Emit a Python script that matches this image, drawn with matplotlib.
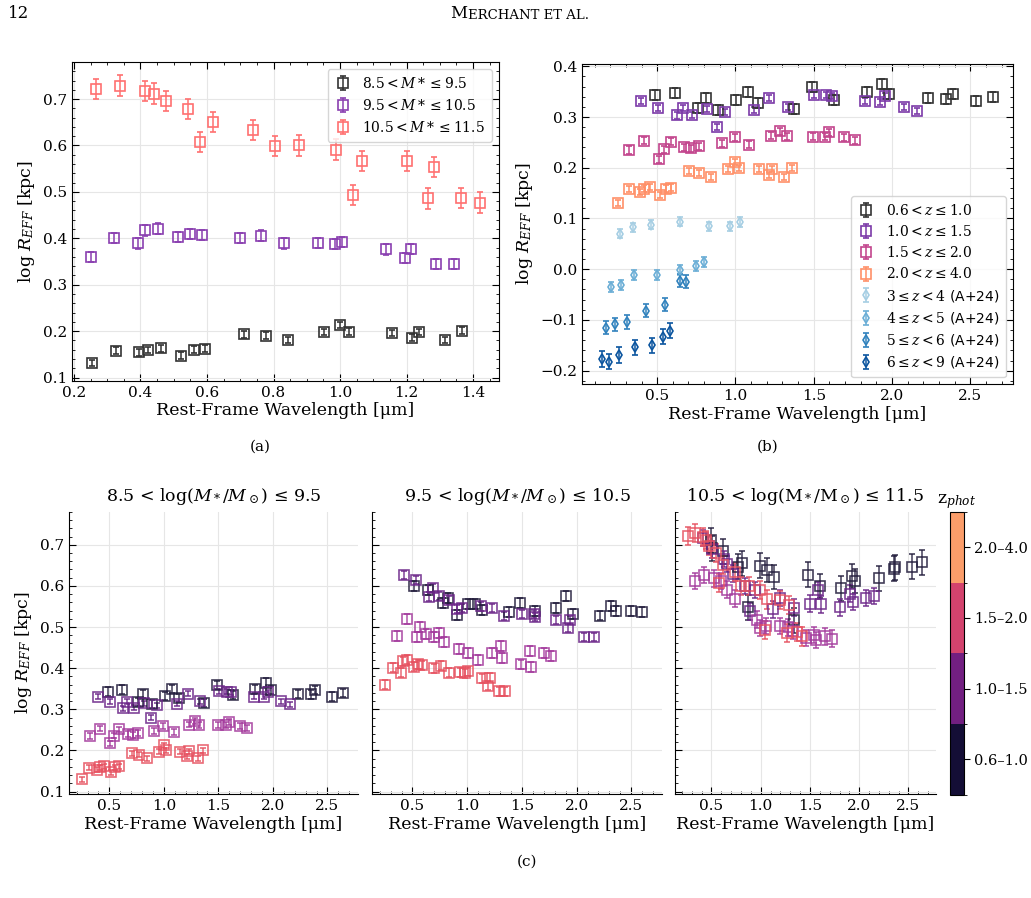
import numpy as np
import matplotlib
matplotlib.use("Agg")
import matplotlib.pyplot as plt
from matplotlib.colors import ListedColormap, BoundaryNorm
from matplotlib.cm import ScalarMappable

plt.rcParams['font.family'] = 'DejaVu Serif'
plt.rcParams['mathtext.fontset'] = 'dejavuserif'

# ---- panel (a): z = 2.0-4.0, split by stellar mass ----
a_lo_x = [0.254, 0.326, 0.397, 0.422, 0.462, 0.523, 0.560, 0.595, 0.711, 0.776,
          0.845, 0.951, 1.001, 1.026, 1.157, 1.215, 1.236, 1.315, 1.367]
a_lo_y = [0.131, 0.158, 0.154, 0.159, 0.163, 0.147, 0.160, 0.162, 0.193, 0.190,
          0.181, 0.198, 0.213, 0.199, 0.196, 0.186, 0.198, 0.181, 0.201]
a_mid_x = [0.250, 0.319, 0.391, 0.414, 0.453, 0.514, 0.549, 0.585, 0.699, 0.761,
           0.831, 0.935, 0.984, 1.007, 1.137, 1.195, 1.213, 1.290, 1.344]
a_mid_y = [0.360, 0.401, 0.389, 0.417, 0.421, 0.403, 0.410, 0.407, 0.400, 0.406,
           0.389, 0.390, 0.388, 0.392, 0.376, 0.357, 0.377, 0.344, 0.344]
a_hi_x = [0.265, 0.337, 0.414, 0.440, 0.478, 0.542, 0.580, 0.617, 0.737, 0.804,
          0.878, 0.988, 1.040, 1.065, 1.201, 1.263, 1.283, 1.364, 1.420]
a_hi_y = [0.722, 0.729, 0.718, 0.712, 0.696, 0.679, 0.607, 0.651, 0.634, 0.599,
          0.600, 0.591, 0.493, 0.567, 0.566, 0.486, 0.554, 0.487, 0.477]
a_err = [0.007, 0.011, 0.022]
a_labels = [r'$8.5 < M* \leq 9.5$', r'$9.5 < M* \leq 10.5$', r'$10.5 < M* \leq 11.5$']

# ---- panel (b): low-mass bin, split by redshift ----
b_z1_x = [0.487, 0.617, 0.762, 0.811, 0.889, 1.006, 1.079, 1.143, 1.372, 1.491,
          1.630, 1.838, 1.936, 1.983, 2.232, 2.347, 2.389, 2.538, 2.645]
b_z1_y = [0.343, 0.348, 0.317, 0.337, 0.313, 0.333, 0.349, 0.327, 0.316, 0.359,
          0.334, 0.350, 0.365, 0.346, 0.337, 0.336, 0.346, 0.331, 0.340]
b_z2_x = [0.396, 0.504, 0.626, 0.662, 0.723, 0.821, 0.879, 0.936, 1.117, 1.217,
          1.336, 1.502, 1.581, 1.619, 1.826, 1.921, 1.953, 2.074, 2.157]
b_z2_y = [0.331, 0.318, 0.303, 0.318, 0.304, 0.315, 0.280, 0.310, 0.314, 0.338,
          0.320, 0.344, 0.343, 0.341, 0.331, 0.330, 0.341, 0.320, 0.312]
b_z3_x = [0.323, 0.413, 0.509, 0.543, 0.591, 0.670, 0.719, 0.766, 0.913, 0.996,
          1.089, 1.228, 1.287, 1.326, 1.494, 1.571, 1.596, 1.696, 1.764]
b_z3_y = [0.235, 0.253, 0.217, 0.236, 0.251, 0.240, 0.238, 0.242, 0.248, 0.260,
          0.245, 0.263, 0.272, 0.262, 0.261, 0.261, 0.270, 0.260, 0.254]
b_z4_x = [0.249, 0.317, 0.389, 0.413, 0.453, 0.515, 0.555, 0.587, 0.706, 0.768,
          0.843, 0.951, 0.998, 1.021, 1.151, 1.211, 1.234, 1.309, 1.362]
b_z4_y = [0.130, 0.158, 0.153, 0.159, 0.162, 0.147, 0.159, 0.161, 0.193, 0.190,
          0.181, 0.197, 0.212, 0.200, 0.197, 0.186, 0.198, 0.181, 0.200]
b_err = [0.010, 0.006, 0.007, 0.006]
b_labels = [r'$0.6 < z \leq 1.0$', r'$1.0 < z \leq 1.5$', r'$1.5 < z \leq 2.0$', r'$2.0 < z \leq 4.0$']

# Allen+24 comparison
A24_34_x = [0.264, 0.347, 0.462, 0.643, 0.834, 0.962, 1.028]
A24_34_y = [0.070, 0.083, 0.088, 0.094, 0.085, 0.085, 0.093]
A24_45_x = [0.204, 0.266, 0.355, 0.496, 0.643, 0.745, 0.798]
A24_45_y = [-0.035, -0.031, -0.012, -0.011, -0.002, 0.007, 0.014]
A24_56_x = [0.174, 0.232, 0.306, 0.426, 0.553, 0.643, 0.687]
A24_56_y = [-0.115, -0.109, -0.104, -0.082, -0.070, -0.023, -0.025]
A24_69_x = [0.145, 0.191, 0.257, 0.360, 0.470, 0.540, 0.581]
A24_69_y = [-0.177, -0.182, -0.169, -0.154, -0.150, -0.133, -0.121]
A24_err = [0.009, 0.010, 0.013, 0.015]
A24_labels = [r'$3 \leq z < 4$ (A+24)', r'$4 \leq z < 5$ (A+24)',
              r'$5 \leq z < 6$ (A+24)', r'$6 \leq z < 9$ (A+24)']

# ---- panel (c) middle: 9.5 < logM <= 10.5 ----
c2_z1_x = [0.512, 0.638, 0.778, 0.823, 0.904, 1.009, 1.072, 1.138, 1.383, 1.479,
           1.623, 1.814, 1.907, 1.964, 2.210, 2.311, 2.356, 2.497, 2.599]
c2_z1_y = [0.600, 0.590, 0.559, 0.570, 0.529, 0.557, 0.557, 0.541, 0.537, 0.558,
           0.539, 0.546, 0.576, 0.532, 0.528, 0.551, 0.539, 0.539, 0.537]
c2_z2_x = [0.425, 0.536, 0.650, 0.689, 0.740, 0.835, 0.910, 0.955, 1.129, 1.231,
           1.341, 1.503, 1.608, 1.617, 1.808, 1.922, 1.943, 2.072, 2.156]
c2_z2_y = [0.627, 0.614, 0.574, 0.594, 0.576, 0.566, 0.543, 0.547, 0.550, 0.547,
           0.527, 0.532, 0.531, 0.524, 0.517, 0.498, 0.517, 0.475, 0.475]
c2_z3_x = [0.362, 0.446, 0.539, 0.566, 0.623, 0.695, 0.746, 0.787, 0.928, 1.012,
           1.099, 1.228, 1.305, 1.320, 1.488, 1.575, 1.587, 1.704, 1.769]
c2_z3_y = [0.479, 0.519, 0.476, 0.501, 0.482, 0.475, 0.485, 0.464, 0.446, 0.436,
           0.420, 0.436, 0.454, 0.424, 0.409, 0.442, 0.402, 0.436, 0.429]

# ---- panel (c) right: 10.5 < logM <= 11.5 ----
c3_z1_x = [0.493, 0.510, 0.617, 0.771, 0.811, 0.875, 0.992, 1.069, 1.135, 1.343,
           1.477, 1.607, 1.814, 1.931, 1.958, 2.199, 2.349, 2.360, 2.540, 2.637]
c3_z1_y = [0.711, 0.691, 0.684, 0.647, 0.655, 0.548, 0.649, 0.639, 0.622, 0.516,
           0.627, 0.600, 0.594, 0.624, 0.612, 0.618, 0.642, 0.645, 0.647, 0.657]
c3_z2_x = [0.410, 0.510, 0.630, 0.660, 0.720, 0.845, 0.890, 0.940, 1.122, 1.196,
           1.336, 1.503, 1.580, 1.614, 1.808, 1.908, 1.941, 2.065, 2.149]
c3_z2_y = [0.716, 0.689, 0.665, 0.653, 0.630, 0.600, 0.538, 0.590, 0.543, 0.571,
           0.547, 0.557, 0.589, 0.555, 0.548, 0.581, 0.561, 0.571, 0.575]
c3_z3_x = [0.333, 0.420, 0.527, 0.594, 0.660, 0.744, 0.962, 0.995, 1.055, 1.200,
           1.280, 1.330, 1.463, 1.537, 1.557, 1.657, 1.724]
c3_z3_y = [0.612, 0.626, 0.618, 0.612, 0.591, 0.569, 0.518, 0.498, 0.502, 0.502,
           0.499, 0.490, 0.473, 0.481, 0.468, 0.477, 0.472]
c_err = {'mid': [0.012, 0.010, 0.012, 0.011], 'hi': [0.030, 0.020, 0.020, 0.022]}

c_titles = [r'8.5 < log($M_*/M_\odot$) ≤ 9.5', r'9.5 < log($M_*/M_\odot$) ≤ 10.5',
            r'10.5 < log(M$_*$/M$_\odot$) ≤ 11.5']
cbar_labels = ['0.6–1.0', '1.0–1.5', '1.5–2.0', '2.0–4.0']

# colours
col_a = ['#333333', '#8a3fb0', '#ff7070']
col_b = ['#333333', '#7b3aa8', '#c2448c', '#ff9068']
col_A24 = ['#a6cee3', '#6baed6', '#3182bd', '#0b559f']
col_c = ['#221c3c', '#6a2487', '#a3399c', '#e6505f']
cbar_cols = ['#140e36', '#721f81', '#d3436e', '#fb9d6a']

XLAB = 'Rest-Frame Wavelength [μm]'
YLAB = r'log $R_{EFF}$ [kpc]'


def style_axes(ax):
    ax.tick_params(direction='in', which='both', top=True, right=True, labelsize=11)
    ax.tick_params(which='major', length=5)
    ax.tick_params(which='minor', length=2.5)
    ax.minorticks_on()
    ax.grid(True, color='#e6e6e6', lw=0.8)
    ax.set_axisbelow(True)


def eb(ax, x, y, e, c, m='s', ms=7, label=None, alpha=1.0):
    ax.errorbar(x, y, yerr=e, fmt=m, ms=ms, mfc='none', mec=c, ecolor=c, mew=1.2,
                elinewidth=1.1, capsize=2.5, capthick=1.1, label=label, alpha=alpha)


fig = plt.figure(figsize=(10.31, 8.98), dpi=100)

# ---- (a) ----
axa = fig.add_axes([0.0695, 0.576, 0.4145, 0.355])
for xs, ys, e, c, lab in zip([a_lo_x, a_mid_x, a_hi_x], [a_lo_y, a_mid_y, a_hi_y],
                             a_err, col_a, a_labels):
    eb(axa, xs, ys, e, c, ms=6.5, label=lab)
axa.set_xlim(0.193, 1.478)
axa.set_ylim(0.093, 0.78)
style_axes(axa)
axa.set_xlabel(XLAB, fontsize=12.5, labelpad=2)
axa.set_ylabel(YLAB, fontsize=12.5)
axa.legend(loc='upper right', prop={'family': 'DejaVu Sans', 'size': 10},
           framealpha=0.8, handlelength=1.2, borderpad=0.5)
fig.text(0.2525, 0.503, '(a)', fontsize=11, ha='center', va='center')

# header (small caps faked with two sizes)
fig.text(0.008, 0.976, '12', fontsize=12, va='bottom', ha='left')
tm = fig.text(0.437, 0.976, 'M', fontsize=12, va='bottom', ha='left')
axa.annotate('ERCHANT ET AL.', xy=(1.0, 0.0), xycoords=tm, va='bottom', ha='left',
             fontsize=9.5, annotation_clip=False)

# ---- (b) ----
axb = fig.add_axes([0.5645, 0.572, 0.418, 0.357])
for xs, ys, e, c, lab in zip([b_z1_x, b_z2_x, b_z3_x, b_z4_x], [b_z1_y, b_z2_y, b_z3_y, b_z4_y],
                             b_err, col_b, b_labels):
    eb(axb, xs, ys, e, c, ms=6.5, label=lab)
for xs, ys, e, c, lab in zip([A24_34_x, A24_45_x, A24_56_x, A24_69_x],
                             [A24_34_y, A24_45_y, A24_56_y, A24_69_y],
                             A24_err, col_A24, A24_labels):
    eb(axb, xs, ys, e, c, m='d', ms=5.5, label=lab)
axb.set_xlim(0.02, 2.772)
axb.set_ylim(-0.227, 0.405)
style_axes(axb)
axb.set_xticks([0.5, 1.0, 1.5, 2.0, 2.5])
axb.set_xlabel(XLAB, fontsize=12.5, labelpad=2)
axb.set_ylabel(YLAB, fontsize=12.5)
axb.legend(loc='lower right', prop={'family': 'DejaVu Sans', 'size': 10},
           framealpha=0.8, handlelength=1.2, borderpad=0.5, labelspacing=0.45)
fig.text(0.745, 0.503, '(b)', fontsize=11, ha='center', va='center')

# ---- (c) ----
c_lefts = [0.0669, 0.3608, 0.6547]
c_widths = [0.2803, 0.2812, 0.2532]
c_sets = [
    ([b_z1_x, b_z2_x, b_z3_x, b_z4_x], [b_z1_y, b_z2_y, b_z3_y, b_z4_y], b_err),
    ([c2_z1_x, c2_z2_x, c2_z3_x, a_mid_x], [c2_z1_y, c2_z2_y, c2_z3_y, a_mid_y], c_err['mid']),
    ([c3_z1_x, c3_z2_x, c3_z3_x, a_hi_x], [c3_z1_y, c3_z2_y, c3_z3_y, a_hi_y], c_err['hi']),
]
for i in range(3):
    ax = fig.add_axes([c_lefts[i], 0.1158, c_widths[i], 0.3142])
    xsets, ysets, errs = c_sets[i]
    for j in range(4):
        eb(ax, xsets[j], ysets[j], errs[j], col_c[j], ms=7.5, alpha=0.85)
    ax.set_xlim(0.13, 2.78)
    ax.set_ylim(0.094, 0.78)
    style_axes(ax)
    ax.tick_params(top=False, right=False, which='both')
    ax.set_xticks([0.5, 1.0, 1.5, 2.0, 2.5])
    ax.set_title(c_titles[i], fontsize=12.5, pad=8)
    ax.set_xlabel(XLAB, fontsize=12.5, labelpad=2)
    for s in ['top', 'right']:
        ax.spines[s].set_visible(False)
    if i == 0:
        ax.set_ylabel(YLAB, fontsize=12.5)
    else:
        ax.tick_params(labelleft=False)

cax = fig.add_axes([0.9214, 0.115, 0.0136, 0.315])
cmap = ListedColormap(cbar_cols)
norm = BoundaryNorm([0, 1, 2, 3, 4], cmap.N)
cb = fig.colorbar(ScalarMappable(norm=norm, cmap=cmap), cax=cax)
cb.set_ticks([0.5, 1.5, 2.5, 3.5])
cb.set_ticklabels(cbar_labels)
cb.ax.tick_params(labelsize=10.5, length=4)
cax.set_title(r'z$_{phot}$', fontsize=12.5, pad=6)
fig.text(0.511, 0.04, '(c)', fontsize=11, ha='center', va='center')

fig.savefig('out.png', dpi=100)
